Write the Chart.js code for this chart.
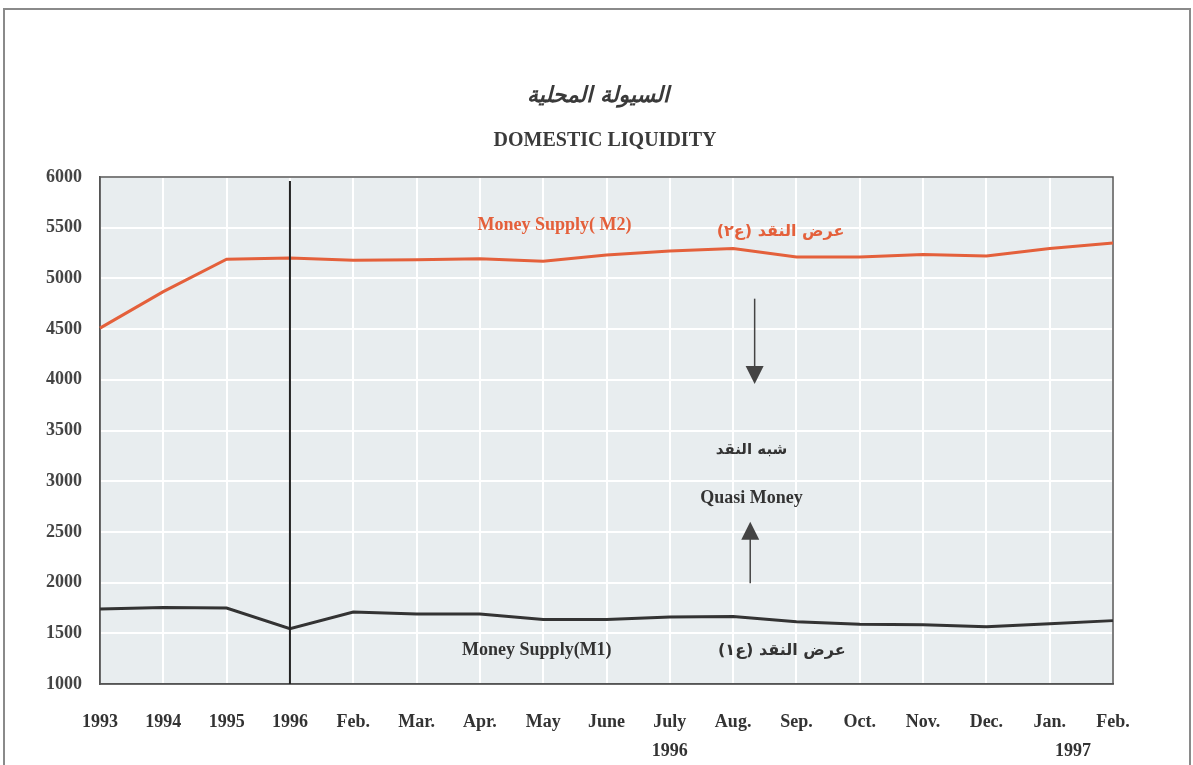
<!DOCTYPE html>
<html>
<head>
<meta charset="utf-8">
<script src="https://cdn.jsdelivr.net/npm/chart.js@4.4.1/dist/chart.umd.min.js"></script>
<style>
  html, body { margin: 0; padding: 0; background: #ffffff; }
  #wrap { width: 1193px; height: 765px; position: relative; }
</style>
</head>
<body>
<div id="wrap"><canvas id="c" width="1193" height="765"></canvas></div>
<script>
// ---- data ----
const categories = ['1993','1994','1995','1996','Feb.','Mar.','Apr.','May','June','July','Aug.','Sep.','Oct.','Nov.','Dec.','Jan.','Feb.'];
const m2Values = [4510, 4870, 5190, 5200, 5180, 5185, 5195, 5170, 5230, 5270, 5295, 5210, 5210, 5235, 5220, 5295, 5350];
const m1Values = [1740, 1755, 1750, 1545, 1710, 1690, 1690, 1635, 1635, 1660, 1665, 1615, 1590, 1585, 1565, 1595, 1625];
const yTickValues = [1000, 1500, 2000, 2500, 3000, 3500, 4000, 4500, 5000, 5500, 6000];
const yearLabels = [{ text: '1996', at: 9 }, { text: '1997', at: 15.37 }];

const ORANGE = '#e4603b';
const DARK = '#333333';
const SERIF = '"Liberation Serif", "Times New Roman", serif';
const ARABIC = '"DejaVu Sans", sans-serif';

const decorPlugin = {
  id: 'decor',
  beforeDraw(chart) {
    const { ctx, chartArea: a } = chart;
    ctx.save();
    ctx.strokeStyle = '#8a8a8a';
    ctx.lineWidth = 2;
    ctx.strokeRect(4, 9, 1186, 800);
    ctx.fillStyle = '#e8edef';
    ctx.fillRect(a.left, a.top, a.right - a.left, a.bottom - a.top);
    ctx.fillStyle = '#3a3a3a';
    ctx.textAlign = 'center';
    ctx.textBaseline = 'middle';
    ctx.direction = 'rtl';
    ctx.font = 'italic bold 22px ' + ARABIC;
    ctx.fillText('السيولة المحلية', 598, 96);
    ctx.direction = 'ltr';
    ctx.font = 'bold 20px ' + SERIF;
    ctx.fillText('DOMESTIC LIQUIDITY', 605, 141);
    ctx.restore();
  },
  beforeDatasetsDraw(chart) {
    const { ctx, chartArea: a } = chart;
    ctx.save();
    ctx.strokeStyle = '#555555';
    ctx.lineWidth = 1.5;
    ctx.strokeRect(a.left, a.top, a.right - a.left, a.bottom - a.top);
    ctx.restore();
  },
  afterDatasetsDraw(chart) {
    const { ctx, chartArea: a, scales } = chart;
    const x = scales.x, y = scales.y;
    ctx.save();
    const xd = x.getPixelForValue(3);
    ctx.strokeStyle = '#222222';
    ctx.lineWidth = 2;
    ctx.beginPath();
    ctx.moveTo(xd, a.top + 4);
    ctx.lineTo(xd, a.bottom);
    ctx.stroke();

    const txt = (s, xi, v, font, color, rtl) => {
      ctx.font = font;
      ctx.fillStyle = color;
      ctx.textAlign = 'center';
      ctx.textBaseline = 'middle';
      ctx.direction = rtl ? 'rtl' : 'ltr';
      ctx.fillText(s, x.getPixelForValue(xi), y.getPixelForValue(v));
    };
    txt('Money Supply( M2)', 7.18, 5520, 'bold 18px ' + SERIF, ORANGE, false);
    txt('عرض النقد (ع٢)', 10.75, 5460, 'bold 16px ' + ARABIC, ORANGE, true);
    txt('Money Supply(M1)', 6.9, 1335, 'bold 18px ' + SERIF, DARK, false);
    txt('عرض النقد (ع١)', 10.77, 1325, 'bold 16px ' + ARABIC, DARK, true);
    txt('شبه النقد', 10.29, 3305, 'bold 15px ' + ARABIC, DARK, true);
    txt('Quasi Money', 10.29, 2835, 'bold 18px ' + SERIF, DARK, false);

    const arrow = (xi, vFrom, vTip) => {
      const px = x.getPixelForValue(xi);
      const y0 = y.getPixelForValue(vFrom);
      const y1 = y.getPixelForValue(vTip);
      const dir = y1 > y0 ? 1 : -1;
      ctx.strokeStyle = '#444444';
      ctx.fillStyle = '#444444';
      ctx.lineWidth = 1.5;
      ctx.beginPath();
      ctx.moveTo(px, y0);
      ctx.lineTo(px, y1 - dir * 16);
      ctx.stroke();
      ctx.beginPath();
      ctx.moveTo(px, y1);
      ctx.lineTo(px - 9, y1 - dir * 18);
      ctx.lineTo(px + 9, y1 - dir * 18);
      ctx.closePath();
      ctx.fill();
    };
    arrow(10.34, 4800, 3958);
    arrow(10.27, 1994, 2600);

    ctx.direction = 'ltr';
    ctx.font = 'bold 18px ' + SERIF;
    ctx.fillStyle = DARK;
    ctx.textAlign = 'center';
    ctx.textBaseline = 'middle';
    yearLabels.forEach(l => ctx.fillText(l.text, x.getPixelForValue(l.at), 751));
    ctx.restore();
  }
};

new Chart(document.getElementById('c'), {
  type: 'line',
  data: {
    labels: categories,
    datasets: [
      { label: 'Money Supply (M2)', data: m2Values, borderColor: ORANGE, borderWidth: 3, pointRadius: 0, tension: 0 },
      { label: 'Money Supply (M1)', data: m1Values, borderColor: DARK, borderWidth: 3, pointRadius: 0, tension: 0 }
    ]
  },
  options: {
    responsive: false,
    animation: false,
    events: [],
    layout: { padding: { left: 0, right: 80, top: 177, bottom: 0 } },
    plugins: { legend: { display: false }, title: { display: false }, tooltip: { enabled: false } },
    scales: {
      x: {
        offset: false,
        grid: { color: '#ffffff', lineWidth: 2, drawTicks: false },
        border: { display: true, color: '#555555', width: 1.5 },
        ticks: { color: DARK, font: { family: SERIF, size: 18, weight: 'bold' }, padding: 28, maxRotation: 0, autoSkip: false },
        afterFit(s) { s.height = 81; }
      },
      y: {
        min: 1000, max: 6000,
        grid: { color: '#ffffff', lineWidth: 2, drawTicks: false },
        border: { display: true, color: '#555555', width: 1.5 },
        afterBuildTicks(s) { s.ticks = yTickValues.map(v => ({ value: v })); },
        ticks: { color: '#444444', font: { family: SERIF, size: 18, weight: 'bold' }, padding: 18, callback: v => String(v) },
        afterFit(s) { s.width = 100; }
      }
    }
  },
  plugins: [decorPlugin]
});
</script>
</body>
</html>
